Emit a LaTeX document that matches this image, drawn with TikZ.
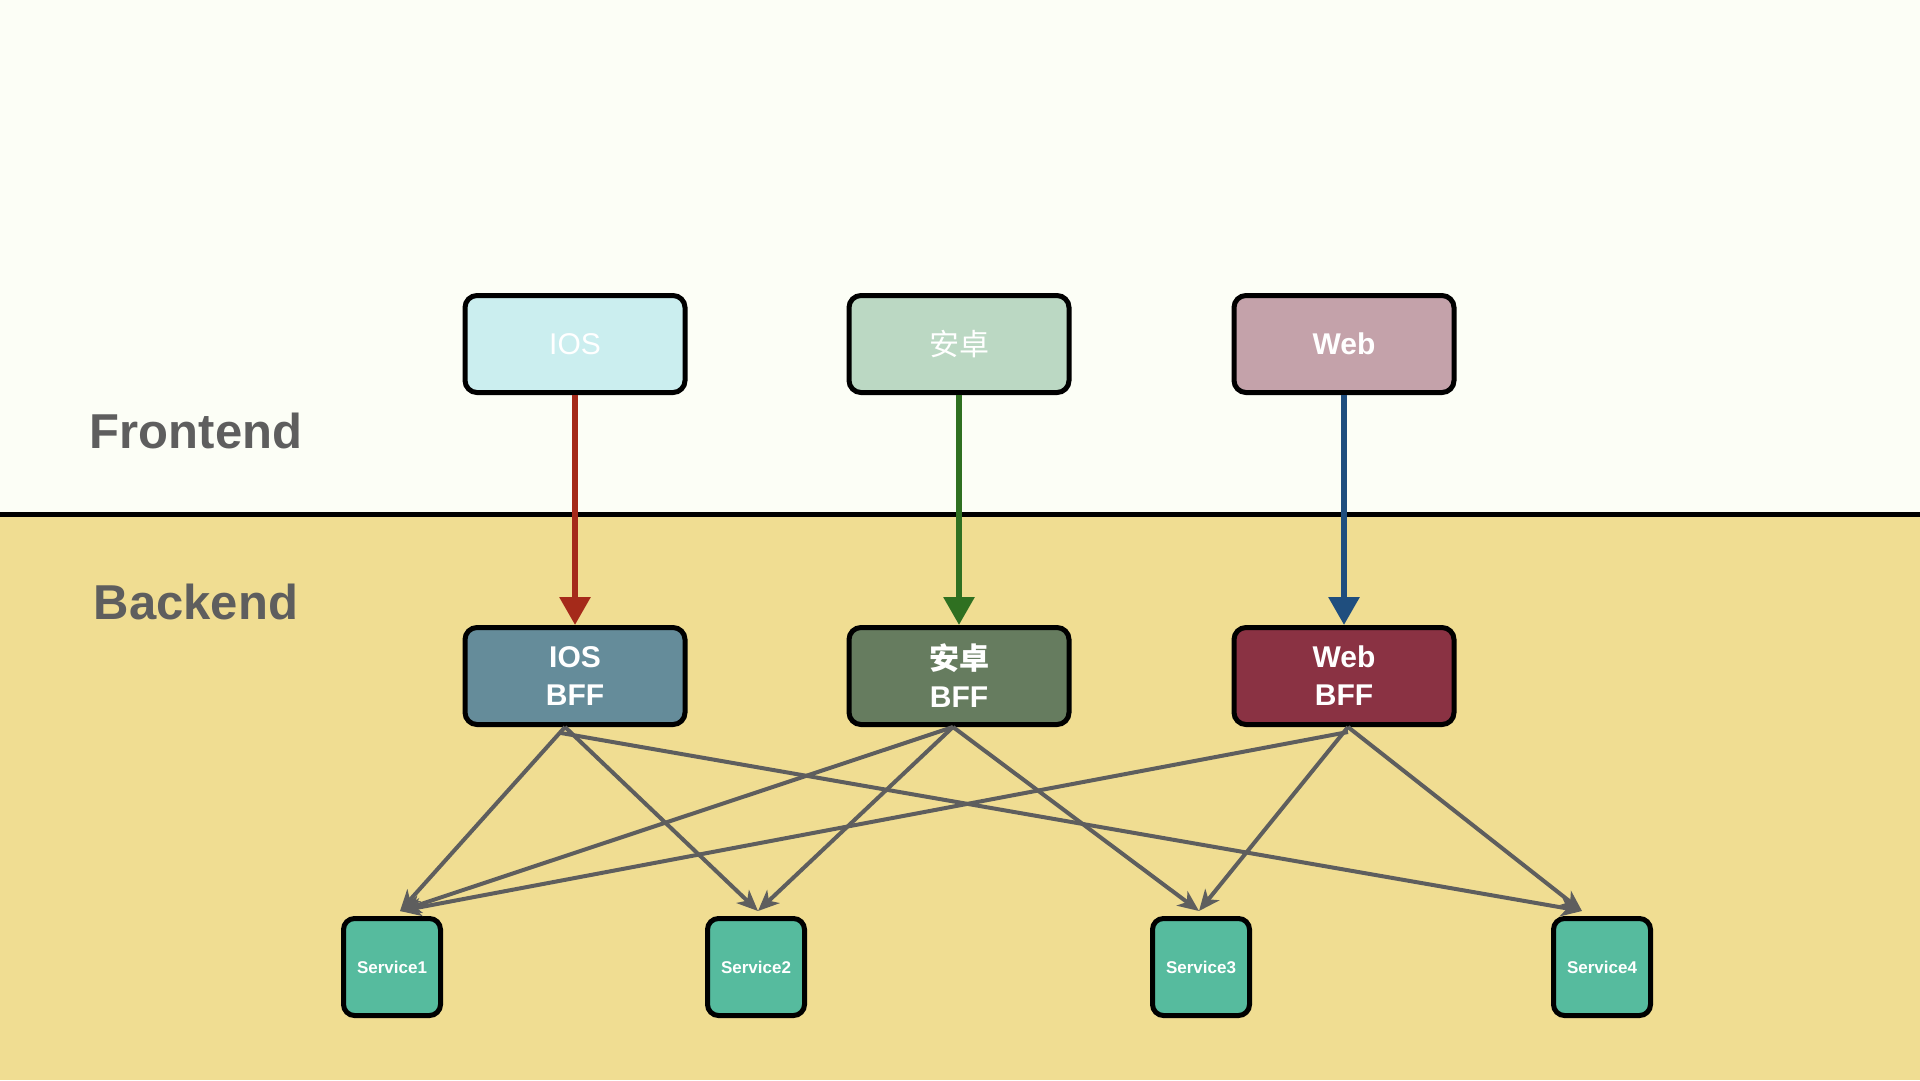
\documentclass[tikz,border=0pt]{standalone}
\usepackage{fontspec}
\setmainfont{Liberation Sans}
\newfontfamily\cjk{Noto Sans CJK SC}
\usetikzlibrary{arrows.meta,calc}
\definecolor{topbg}{HTML}{FCFEF6}
\definecolor{botbg}{HTML}{F0DD92}
\definecolor{labgray}{HTML}{5E5E5E}
\definecolor{iostop}{HTML}{CBEEEF}
\definecolor{andtop}{HTML}{BBD8C3}
\definecolor{webtop}{HTML}{C4A2AA}
\definecolor{iosbff}{HTML}{658C9A}
\definecolor{andbff}{HTML}{667C5F}
\definecolor{webbff}{HTML}{8A3243}
\definecolor{svc}{HTML}{56BB9E}
\definecolor{ared}{HTML}{A52A1A}
\definecolor{agreen}{HTML}{2F7021}
\definecolor{ablue}{HTML}{1F4E7E}
\definecolor{agray}{HTML}{5E5E5E}
\tikzset{
  appbox/.style={draw=black, line width=5pt, rounded corners=12pt,
    minimum width=220pt, minimum height=97pt, text=white, inner sep=0pt},
  bffbox/.style={appbox, align=center, font=\bfseries\fontsize{30}{38}\selectfont},
  svcbox/.style={draw=black, line width=5pt, rounded corners=11pt, fill=svc,
    minimum width=97pt, minimum height=97pt, text=white, inner sep=0pt,
    font=\bfseries\fontsize{17}{20}\selectfont},
  layerlabel/.style={text=labgray, font=\bfseries\fontsize{49}{58}\selectfont},
  colarrow/.style={line width=6pt, -{Triangle[width=30pt,length=28pt]}},
  grayarrow/.style={draw=agray, line width=4pt, -{Stealth[width=18pt,length=21pt,inset=6pt]}}
}
\begin{document}
\begin{tikzpicture}[x=1pt,y=-1pt]
\useasboundingbox (0,0) rectangle (1920,1080);
\fill[topbg] (0,0) rectangle (1920,514);
\fill[botbg] (0,514) rectangle (1920,1080);
\draw[line width=5pt, black] (0,514) -- (1920,514);

\node[layerlabel] (fe) at (196,431) {Frontend};
\node[layerlabel] (be) at (196,602) {Backend};

\node[appbox, fill=iostop, font=\fontsize{30}{36}\selectfont] (ios) at (575,344) {IOS};
\node[appbox, fill=andtop, font=\cjk\fontsize{30}{36}\selectfont] (and) at (959,344) {安卓};
\node[appbox, fill=webtop, font=\bfseries\fontsize{30}{36}\selectfont] (web) at (1344,344) {Web};

\node[bffbox, fill=iosbff] (iosb) at (575,676) {IOS\\BFF};
\node[bffbox, fill=andbff] (andb) at (959,676) {{\cjk\bfseries 安卓}\\BFF};
\node[bffbox, fill=webbff] (webb) at (1344,676) {Web\\BFF};

\node[svcbox] (s1) at (392,967) {Service1};
\node[svcbox] (s2) at (756,967) {Service2};
\node[svcbox] (s3) at (1201,967) {Service3};
\node[svcbox] (s4) at (1602,967) {Service4};

\draw[colarrow, ared] (ios.south) -- (iosb.north);
\draw[colarrow, agreen] (and.south) -- (andb.north);
\draw[colarrow, ablue] (web.south) -- (webb.north);

\coordinate (t1) at ($(s1.north)+(8,-5)$);
\coordinate (t2) at ($(s2.north)+(2,-5)$);
\coordinate (t3) at ($(s3.north)+(-2,-5)$);
\coordinate (t4) at ($(s4.north)+(-20,-5)$);
\coordinate (o1) at ($(iosb.south)+(-10,0)$);
\coordinate (o2) at ($(andb.south)+(-6,0)$);
\coordinate (o3) at ($(webb.south)+(4,0)$);

\draw[grayarrow] (o1) -- (t1);
\draw[grayarrow] (o1) -- (t2);
\draw[grayarrow] ($(o1)+(-4,6)$) -- (t4);
\draw[grayarrow] (o2) -- (t1);
\draw[grayarrow] (o2) -- (t2);
\draw[grayarrow] (o2) -- (t3);
\draw[grayarrow] ($(o3)+(0,5)$) -- (t1);
\draw[grayarrow] (o3) -- (t3);
\draw[grayarrow] (o3) -- (t4);
\end{tikzpicture}
\end{document}
